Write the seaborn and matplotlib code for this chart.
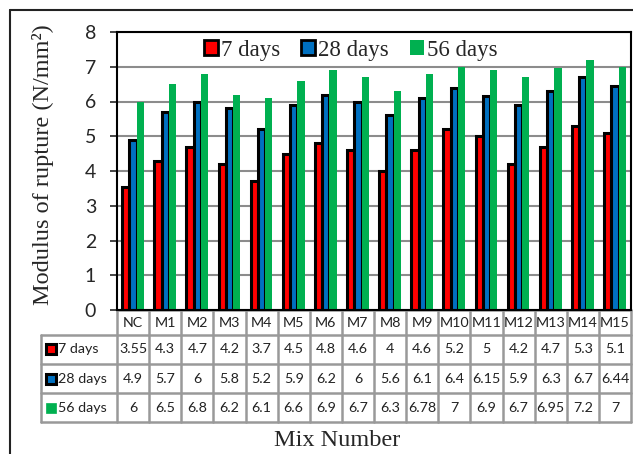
import matplotlib
matplotlib.use("Agg")
import matplotlib.pyplot as plt
import matplotlib.transforms as mtransforms
from matplotlib.patches import Rectangle
from matplotlib.lines import Line2D
import pandas as pd
import seaborn as sns

mixes = ["NC", "M1", "M2", "M3", "M4", "M5", "M6", "M7",
         "M8", "M9", "M10", "M11", "M12", "M13", "M14", "M15"]
days_7 = [3.55, 4.3, 4.7, 4.2, 3.7, 4.5, 4.8, 4.6, 4, 4.6, 5.2, 5, 4.2, 4.7, 5.3, 5.1]
days_28 = [4.9, 5.7, 6, 5.8, 5.2, 5.9, 6.2, 6, 5.6, 6.1, 6.4, 6.15, 5.9, 6.3, 6.7, 6.44]
days_56 = [6, 6.5, 6.8, 6.2, 6.1, 6.6, 6.9, 6.7, 6.3, 6.78, 7, 6.9, 6.7, 6.95, 7.2, 7]
series = ["7 days", "28 days", "56 days"]
colors = ["#FF0000", "#0070C0", "#00B050"]
outlined = [True, True, False]

sns.set_style("white")
plt.rcParams['font.family'] = ['Lato', 'DejaVu Sans']
SERIF = 'Liberation Serif'

values = [days_7, days_28, days_56]
df = pd.DataFrame({
    'mix': mixes * 3,
    'series': [s for s in series for _ in mixes],
    'value': [v for vals in values for v in vals],
})

fig = plt.figure(figsize=(6.33, 4.54), dpi=100)
ax = fig.add_axes([117 / 633, 1 - 310 / 454, 514 / 633, 278 / 454])

sns.barplot(data=df, x='mix', y='value', hue='series', order=mixes,
            hue_order=series, palette=colors, width=0.68, saturation=1,
            edgecolor='black', linewidth=2.2, ax=ax, legend=False)
for cont, has_edge in zip(ax.containers, outlined):
    if not has_edge:
        for bar in cont:
            bar.set_edgecolor('none')
            bar.set_linewidth(0)

ax.set_xlim(-0.5, len(mixes) - 0.5)
ax.set_ylim(0, 8)
ax.set_yticks(range(0, 9))
ax.tick_params(axis='y', labelsize=14, length=5, width=1.2, direction='out', pad=10, left=True)
ax.set_xticks([])
ax.set_xlabel('')
ax.set_ylabel('')
ax.yaxis.grid(True, color='#8c8c8c', linewidth=1.5)
ax.set_axisbelow(True)
for sp in ax.spines.values():
    sp.set_color('black')
    sp.set_linewidth(1.5)

# legend
handles = [Rectangle((0, 0), 1, 1, facecolor=c, edgecolor='black' if e else 'none',
                     linewidth=2.0 if e else 0) for c, e in zip(colors, outlined)]
ax.legend(handles, series, loc='center', bbox_to_anchor=(0.455, 0.935), ncol=3,
          frameon=False, handlelength=0.6, handleheight=0.6, handletextpad=0.15,
          columnspacing=0.9, prop={'family': SERIF, 'size': 16.5})

# data table under the axes
trans = mtransforms.blended_transform_factory(ax.transData, ax.transAxes)
y_edges = [0, -0.090, -0.194, -0.299, -0.403]
x_lab = -0.5 - 76 / 32.125
x_right = len(mixes) - 0.5
grid_kw = dict(color='#999999', linewidth=1.8, transform=trans, clip_on=False)

ax.add_line(Line2D([-0.5, x_right], [y_edges[0], y_edges[0]], **grid_kw))
for y in y_edges[1:]:
    ax.add_line(Line2D([x_lab, x_right], [y, y], **grid_kw))
for i in range(len(mixes) + 1):
    ax.add_line(Line2D([i - 0.5, i - 0.5], [y_edges[0], y_edges[-1]], **grid_kw))
ax.add_line(Line2D([x_lab, x_lab], [y_edges[1], y_edges[-1]], **grid_kw))

for i, m in enumerate(mixes):
    ax.text(i, (y_edges[0] + y_edges[1]) / 2, m, transform=trans, ha='center',
            va='center', fontsize=10.3, color='#222222')
for r, (name, vals) in enumerate(zip(series, values)):
    yc = (y_edges[r + 1] + y_edges[r + 2]) / 2
    for i, v in enumerate(vals):
        ax.text(i, yc, f"{v:g}", transform=trans, ha='center', va='center',
                fontsize=10.3, color='#222222')
    ax.plot([-0.5 - 66 / 32.125], [yc], marker='s', markersize=6.5,
            markerfacecolor=colors[r],
            markeredgecolor='black' if outlined[r] else colors[r],
            markeredgewidth=2.2 if outlined[r] else 0.5,
            transform=trans, clip_on=False)
    ax.text(-0.5 - 59 / 32.125, yc, name, transform=trans, ha='left',
            va='center', fontsize=10.3, color='#222222')

# axis titles
fig.text(43 / 633, 1 - 165 / 454, 'Modulus of rupture (N/mm²)', rotation=90,
         ha='center', va='center', family=SERIF, fontsize=17.5)
fig.text(337 / 633, 1 - 440 / 454, 'Mix Number', ha='center', va='center',
         family=SERIF, fontsize=17.5)

# outer frame
fig.add_artist(Line2D([10 / 633, 10 / 633], [0, 1 - 10 / 454], color='#222222',
                      linewidth=1.5, transform=fig.transFigure))
fig.add_artist(Line2D([10 / 633, 1], [1 - 10 / 454, 1 - 10 / 454], color='#222222',
                      linewidth=1.5, transform=fig.transFigure))

fig.savefig('out.png', dpi=100)
